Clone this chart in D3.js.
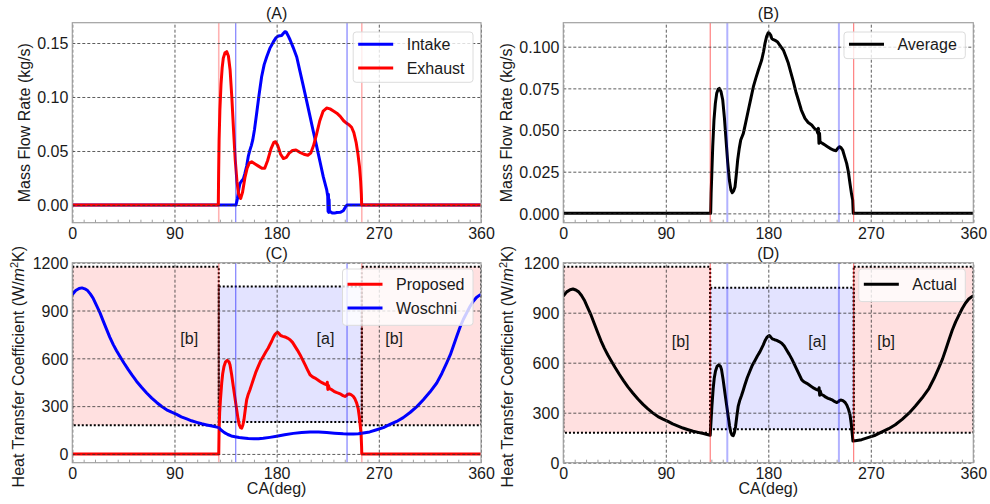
<!DOCTYPE html>
<html>
<head>
<meta charset="utf-8">
<script src="https://cdn.jsdelivr.net/npm/d3@7"></script>
<style>
  body { margin: 0; background: #fff; }
  svg { display: block; }
  text { font-family: "Liberation Sans", Arial, sans-serif; fill: #1a1a1a; }
</style>
</head>
<body>
<svg id="fig" width="990" height="504"></svg>
<script>
// ---------- data: [crank angle (deg), value] ----------
const caTicks = [0, 90, 180, 270, 360];
const flowTicksA = [0, 0.05, 0.10, 0.15];
const flowTicksB = [0, 0.025, 0.05, 0.075, 0.10];
const htcTicks = [0, 300, 600, 900, 1200];

// valve events (deg)
const exhaustEvents = [129, 255];
const intakeEvents = [144, 242];

// zone rectangles: [caStart, caEnd, htcLow, htcHigh]
const zoneB = [[0, 129, 180, 1175], [255, 360, 180, 1175]];
const zoneA = [[129, 255, 200, 1050]];
const zoneLabels = [["[b]", 103, 720], ["[a]", 223, 720], ["[b]", 283.5, 720]];

const intakeFlow = [
  [0,0],[144.2,0],[145.5,0.006],[146.7,0.015],[147.7,0.02],[149,0.022],[150.6,0.024],[152,0.029],
  [153.6,0.036],[155,0.045],[156.5,0.051],[157.7,0.055],[158.9,0.060],[160.5,0.07],[162.4,0.085],
  [164.5,0.102],[166.8,0.119],[169,0.13],[171.2,0.137],[174,0.145],[177.1,0.151],[179.5,0.155],
  [181.5,0.1565],[184.4,0.157],[186,0.159],[187.4,0.1605],[188.5,0.16],[190,0.157],[191.8,0.153],
  [194.5,0.146],[197.7,0.137],[200.5,0.124],[203.5,0.11],[206.5,0.096],[209.4,0.082],[212.3,0.068],
  [215.3,0.054],[218.2,0.040],[221.1,0.026],[224.1,0.014],[225,0.008],[225.3,-0.006],[225.6,0.01],
  [225.9,-0.007],[226.2,0.005],[226.5,-0.006],[227,-0.006],[229,-0.0075],[231,-0.0075],[233,-0.007],
  [236,-0.0068],[238.7,-0.0053],[240.5,-0.002],[242,0],[360,0]
];

const exhaustFlow = [
  [0,0],[128.6,0],[128.9,0.03],[129.3,0.06],[130,0.088],[131,0.112],[132,0.127],[133,0.136],
  [134.5,0.141],[136,0.142],[137.5,0.138],[139,0.125],[140.5,0.1],[142,0.07],[143.5,0.042],
  [145,0.022],[146.5,0.01],[148.3,0.006],[150,0.012],[152,0.025],[154,0.034],[156,0.039],
  [158,0.040],[161,0.038],[164,0.036],[167,0.034],[169.5,0.034],[172,0.041],[175,0.052],
  [177.5,0.058],[179,0.0586],[181,0.055],[183.5,0.047],[186,0.043],[188.5,0.044],[191,0.048],
  [194,0.0505],[197,0.051],[200,0.049],[204,0.047],[207.5,0.046],[210,0.048],[212.5,0.055],
  [215,0.065],[218,0.078],[221,0.087],[224,0.0898],[227,0.089],[230,0.087],[233,0.085],
  [236,0.082],[239,0.078],[241.7,0.0756],[244,0.074],[246,0.072],[248,0.067],[250,0.058],
  [251.5,0.048],[253,0.035],[254,0.022],[254.6,0.01],[254.9,0],[360,0]
];

const averageFlow = [
  [0,0],[129.4,0],[129.8,0.012],[130.3,0.022],[131.2,0.04],[132.3,0.056],[133.5,0.066],[134.7,0.072],
  [136,0.0745],[137,0.075],[138.5,0.073],[140,0.068],[141.5,0.057],[142.9,0.044],[144.3,0.031],
  [145.8,0.020],[147.2,0.014],[148.4,0.0124],[149.6,0.0135],[150.8,0.016],[152,0.024],[153.1,0.032],
  [154.5,0.039],[155.8,0.044],[158.1,0.048],[160,0.054],[162.5,0.062],[164.7,0.069],[166.9,0.076],
  [169,0.081],[171.3,0.086],[174.2,0.092],[175.8,0.097],[177.1,0.102],[178.5,0.106],[180,0.1084],
  [181,0.108],[182.1,0.107],[183,0.105],[184,0.1044],[186,0.1038],[187.9,0.103],[190.5,0.1005],
  [193.2,0.098],[195.5,0.094],[197.6,0.090],[200,0.084],[202,0.079],[204.2,0.073],[206.4,0.068],
  [209,0.062],[212.2,0.057],[215,0.0545],[218.1,0.053],[220.5,0.051],[222.5,0.050],[223.5,0.048],
  [224,0.051],[224.5,0.042],[225,0.048],[225.4,0.043],[227.5,0.042],[229.8,0.041],[232,0.040],
  [234.2,0.039],[237,0.038],[239.5,0.0376],[241,0.039],[242.4,0.040],[243.8,0.0395],[245.3,0.038],
  [247,0.034],[248.8,0.030],[250.3,0.025],[251.7,0.018],[253,0.012],[254.1,0.008],[254.6,0],[360,0]
];

const woschniHTC = [
  [0,1000],[3,1025],[6,1038],[8.5,1042],[11,1036],[13.5,1025],[16,1003],[18.5,975],[21,937],
  [24.4,885],[27,838],[30.3,780],[33,733],[36.1,686],[39,648],[42,612],[45.5,571],[49.3,529],
  [53,491],[56.7,455],[61,418],[65.5,382],[70,350],[74.3,323],[78.5,299],[83.1,277],[87.5,262],
  [91.9,248],[96,233],[100.8,220],[105,208],[109.6,198],[114,189],[118.4,182],[123,175],[127.2,168],
  [129,165],[131,150],[134,134],[137,122],[140,113],[143.3,108],[147,103],[150.6,100],[155,97],
  [160,95],[164,96],[168.2,98],[174,104],[180,111],[187,120],[194.7,129],[202,135],[209.4,138],
  [217,137],[224.1,134],[231,130],[238.7,126],[243,125],[247.5,125],[252,127],[256.3,132],
  [262,138],[268.1,152],[274,165],[279.8,185],[285.7,204],[291.5,228],[297.5,260],[303.5,297],
  [309.2,340],[315,388],[321,445],[325.5,505],[329.8,571],[333,623],[335.6,675],[338.5,735],
  [341.5,795],[344.5,845],[347.4,885],[350.3,925],[353.2,958],[356,982],[359.1,998],[360,1000]
];

const proposedHTC = [
  [0,0],[129,0],[129.3,150],[129.8,260],[130.5,340],[131.6,445],[132.5,505],[133.6,549],[135,578],
  [136.5,587],[138,578],[138.9,560],[140.3,500],[141.8,424],[143.3,350],[144.8,277],[146,220],
  [147.1,182],[148.2,165],[149.2,162],[150.2,180],[151.2,214],[152.4,280],[153.6,340],[155,375],
  [156.5,403],[158,435],[159.4,466],[161.5,510],[163.8,549],[166,585],[168.2,612],[170.4,640],
  [172.6,665],[174,685],[175.6,707],[177,730],[178.5,749],[180,760],[180.9,763],[182,755],
  [183.5,743],[185.5,738],[187.4,734],[189.5,727],[191.8,717],[194,700],[196.2,675],[198.4,650],
  [200.6,623],[202.8,592],[205,560],[207.2,528],[209.4,497],[211.6,484],[213.8,476],[216,466],
  [218.2,455],[220,447],[222,440],[224.1,434],[224.6,450],[225.1,405],[225.6,430],[226.5,410],
  [228.5,403],[230.5,393],[232.5,386],[234.3,382],[236.5,375],[238.5,366],[240.2,361],[241.5,366],
  [242.5,374],[244,376],[245.5,372],[247.5,361],[249,345],[250.5,319],[251.8,285],[252.8,235],
  [253.6,180],[254.3,130],[254.8,50],[255,0],[360,0]
];

// actual coefficient: Woschni outside the open-port window, proposed model inside it
const actualHTC = woschniHTC.filter(d => d[0] <= exhaustEvents[0])
  .concat(proposedHTC.filter(d => d[0] > exhaustEvents[0] + 0.5 && d[0] < exhaustEvents[1] - 0.5))
  .concat(woschniHTC.filter(d => d[0] >= exhaustEvents[1]));

// ---------- drawing ----------
const svg = d3.select("#fig");
const FS = 16;

const htcLabel = (t) => {
  t.append("tspan").text("Heat Transfer Coefficient (W/");
  t.append("tspan").attr("font-style", "italic").text("m");
  t.append("tspan").attr("font-size", 11).attr("dy", -6).text("2");
  t.append("tspan").attr("dy", 6).text("K)");
};

const panels = [
  { id: "A", title: "(A)", left: 72.3, right: 481, top: 22.7, bottom: 222.7,
    yDomain: [-0.0164, 0.1688], yTicks: flowTicksA, fmt: d3.format(".2f"),
    yLabelX: 30, yLabelShift: 0, yLabel: t => t.text("Mass Flow Rate (kg/s)"),
    series: [{ data: intakeFlow, color: "#0000ff", name: "Intake" },
             { data: exhaustFlow, color: "#ff0000", name: "Exhaust" }],
    redMark: { w: 1.6, o: 0.3 }, blueMark: { w: 1, o: 0.6 },
    legendTop: 32, legendRow: 12.3, zones: false, xLabel: false },
  { id: "B", title: "(B)", left: 563.3, right: 973.3, top: 22.7, bottom: 222.7,
    yDomain: [-0.0056, 0.1144], yTicks: flowTicksB, fmt: d3.format(".3f"),
    yLabelX: 511.6, yLabelShift: 0, yLabel: t => t.text("Mass Flow Rate (kg/s)"),
    series: [{ data: averageFlow, color: "#000000", name: "Average" }],
    redMark: { w: 1, o: 0.6 }, blueMark: { w: 2, o: 0.3 },
    legendTop: 32, legendRow: 12.3, zones: false, xLabel: false },
  { id: "C", title: "(C)", left: 72.3, right: 481, top: 262.7, bottom: 462.7,
    yDomain: [-55, 1200], yTicks: htcTicks, fmt: d3.format("d"),
    yLabelX: 24, yLabelShift: 4, yLabel: htcLabel,
    series: [{ data: proposedHTC, color: "#ff0000", name: "Proposed" },
             { data: woschniHTC, color: "#0000ff", name: "Woschni" }],
    redMark: { w: 1.6, o: 0.3 }, blueMark: { w: 1, o: 0.6 },
    legendTop: 269, legendRow: 15.3, zones: true, xLabel: true },
  { id: "D", title: "(D)", left: 563.3, right: 973.3, top: 262.7, bottom: 462.7,
    yDomain: [0, 1200], yTicks: htcTicks, fmt: d3.format("d"),
    yLabelX: 513, yLabelShift: 4, yLabel: htcLabel,
    series: [{ data: actualHTC, color: "#000000", name: "Actual" }],
    redMark: { w: 1, o: 0.6 }, blueMark: { w: 2, o: 0.3 },
    legendTop: 269, legendRow: 15.3, zones: true, xLabel: true }
];

panels.forEach(p => {
  const x = d3.scaleLinear().domain([0, 360]).range([p.left, p.right]);
  const y = d3.scaleLinear().domain(p.yDomain).range([p.bottom, p.top]);
  const g = svg.append("g");
  const clipId = "clip" + p.id;
  svg.append("clipPath").attr("id", clipId).append("rect")
    .attr("x", p.left).attr("y", p.top)
    .attr("width", p.right - p.left).attr("height", p.bottom - p.top);
  const plot = g.append("g").attr("clip-path", `url(#${clipId})`);

  // shaded zones
  if (p.zones) {
    const zones = zoneB.map(z => ({ z, fill: "rgba(255,0,0,0.12)" }))
      .concat(zoneA.map(z => ({ z, fill: "rgba(0,0,255,0.11)" })));
    plot.selectAll("rect.zone").data(zones).join("rect").attr("class", "zone")
      .attr("x", d => x(d.z[0])).attr("width", d => x(d.z[1]) - x(d.z[0]))
      .attr("y", d => y(d.z[3])).attr("height", d => y(d.z[2]) - y(d.z[3]))
      .attr("fill", d => d.fill);
  }

  // grid
  const grid = g.append("g");
  grid.append("g").attr("transform", `translate(0,${p.bottom})`)
    .call(d3.axisBottom(x).tickValues(caTicks).tickSize(-(p.bottom - p.top)).tickFormat(""));
  grid.append("g").attr("transform", `translate(${p.left},0)`)
    .call(d3.axisLeft(y).tickValues(p.yTicks).tickSize(-(p.right - p.left)).tickFormat(""));
  grid.selectAll(".domain").remove();
  grid.selectAll("line").attr("stroke", "#333").attr("stroke-width", 0.8)
    .attr("stroke-dasharray", "3,2");

  // dotted zone outlines
  if (p.zones) {
    const outl = zoneB.concat(zoneA);
    plot.selectAll("rect.outline").data(outl).join("rect").attr("class", "outline")
      .attr("x", z => x(z[0])).attr("width", z => x(z[1]) - x(z[0]))
      .attr("y", z => y(z[3])).attr("height", z => y(z[2]) - y(z[3]))
      .attr("fill", "none").attr("stroke", "#000").attr("stroke-width", 2)
      .attr("stroke-dasharray", "2,2");
    g.selectAll("text.zl").data(zoneLabels).join("text").attr("class", "zl")
      .attr("x", d => x(d[1])).attr("y", d => y(d[2]) + 4.5)
      .attr("text-anchor", "middle").attr("font-size", FS).text(d => d[0]);
  }

  // curves
  const line = d3.line().x(d => x(d[0])).y(d => y(d[1]));
  p.series.forEach(s => {
    plot.append("path").datum(s.data).attr("d", line)
      .attr("fill", "none").attr("stroke", s.color).attr("stroke-width", 3)
      .attr("stroke-linejoin", "round");
  });

  // valve event markers
  exhaustEvents.forEach(v => plot.append("line")
    .attr("x1", x(v)).attr("x2", x(v)).attr("y1", p.top).attr("y2", p.bottom)
    .attr("stroke", "#ff0000").attr("stroke-width", p.redMark.w).attr("stroke-opacity", p.redMark.o));
  intakeEvents.forEach(v => plot.append("line")
    .attr("x1", x(v)).attr("x2", x(v)).attr("y1", p.top).attr("y2", p.bottom)
    .attr("stroke", "#0000ff").attr("stroke-width", p.blueMark.w).attr("stroke-opacity", p.blueMark.o));

  // frame
  g.append("rect").attr("x", p.left).attr("y", p.top)
    .attr("width", p.right - p.left).attr("height", p.bottom - p.top)
    .attr("fill", "none").attr("stroke", "#a0a0a0").attr("stroke-width", 1.2);

  // minor ticks on the angle axis
  const minor = g.append("g").attr("transform", `translate(0,${p.bottom})`)
    .call(d3.axisBottom(x).tickValues(d3.range(0, 361, 10)).tickSize(-3).tickFormat(""));
  minor.select(".domain").remove();
  minor.selectAll("line").attr("stroke", "#a0a0a0").attr("stroke-width", 1);

  // tick labels
  const xa = g.append("g").attr("transform", `translate(0,${p.bottom})`)
    .call(d3.axisBottom(x).tickValues(caTicks).tickSize(0).tickPadding(4.5).tickFormat(d3.format("d")));
  const ya = g.append("g").attr("transform", `translate(${p.left},0)`)
    .call(d3.axisLeft(y).tickValues(p.yTicks).tickSize(0).tickPadding(4).tickFormat(p.fmt));
  [xa, ya].forEach(a => {
    a.select(".domain").remove();
    a.selectAll("text").attr("font-size", FS).attr("font-family", null).attr("fill", "#1a1a1a");
  });
  ya.selectAll("text").attr("dy", "0.36em");

  // titles and labels
  const cx = (p.left + p.right) / 2, cy = (p.top + p.bottom) / 2;
  g.append("text").attr("x", cx).attr("y", p.top - 3.4).attr("text-anchor", "middle")
    .attr("font-size", FS).text(p.title);
  if (p.xLabel) {
    g.append("text").attr("x", cx).attr("y", p.bottom + 31).attr("text-anchor", "middle")
      .attr("font-size", FS).text("CA(deg)");
  }
  const yl = g.append("text")
    .attr("transform", `translate(${p.yLabelX},${cy + p.yLabelShift}) rotate(-90)`)
    .attr("text-anchor", "middle").attr("font-size", FS);
  p.yLabel(yl);

  // legend
  const lg = g.append("g");
  const rowH = 23.7, handle = 35;
  const rows = p.series.map((s, i) => p.legendTop + p.legendRow + i * rowH);
  const texts = p.series.map((s, i) => lg.append("text").attr("y", rows[i] + 5.7)
    .attr("font-size", FS).text(s.name));
  const tw = d3.max(texts, t => t.node().getComputedTextLength());
  const boxRight = p.right - 8;
  const boxLeft = boxRight - (5 + handle + 13.5 + tw + 8.5);
  const boxBottom = rows[rows.length - 1] + p.legendRow + 2;
  lg.insert("rect", ":first-child").attr("x", boxLeft).attr("y", p.legendTop)
    .attr("width", boxRight - boxLeft).attr("height", boxBottom - p.legendTop)
    .attr("rx", 3).attr("fill", "rgba(255,255,255,0.8)").attr("stroke", "#dcdcdc").attr("stroke-width", 1);
  p.series.forEach((s, i) => {
    lg.append("line").attr("x1", boxLeft + 5).attr("x2", boxLeft + 5 + handle)
      .attr("y1", rows[i]).attr("y2", rows[i]).attr("stroke", s.color).attr("stroke-width", 3);
    texts[i].attr("x", boxLeft + 5 + handle + 13.5);
  });
});
</script>
</body>
</html>
